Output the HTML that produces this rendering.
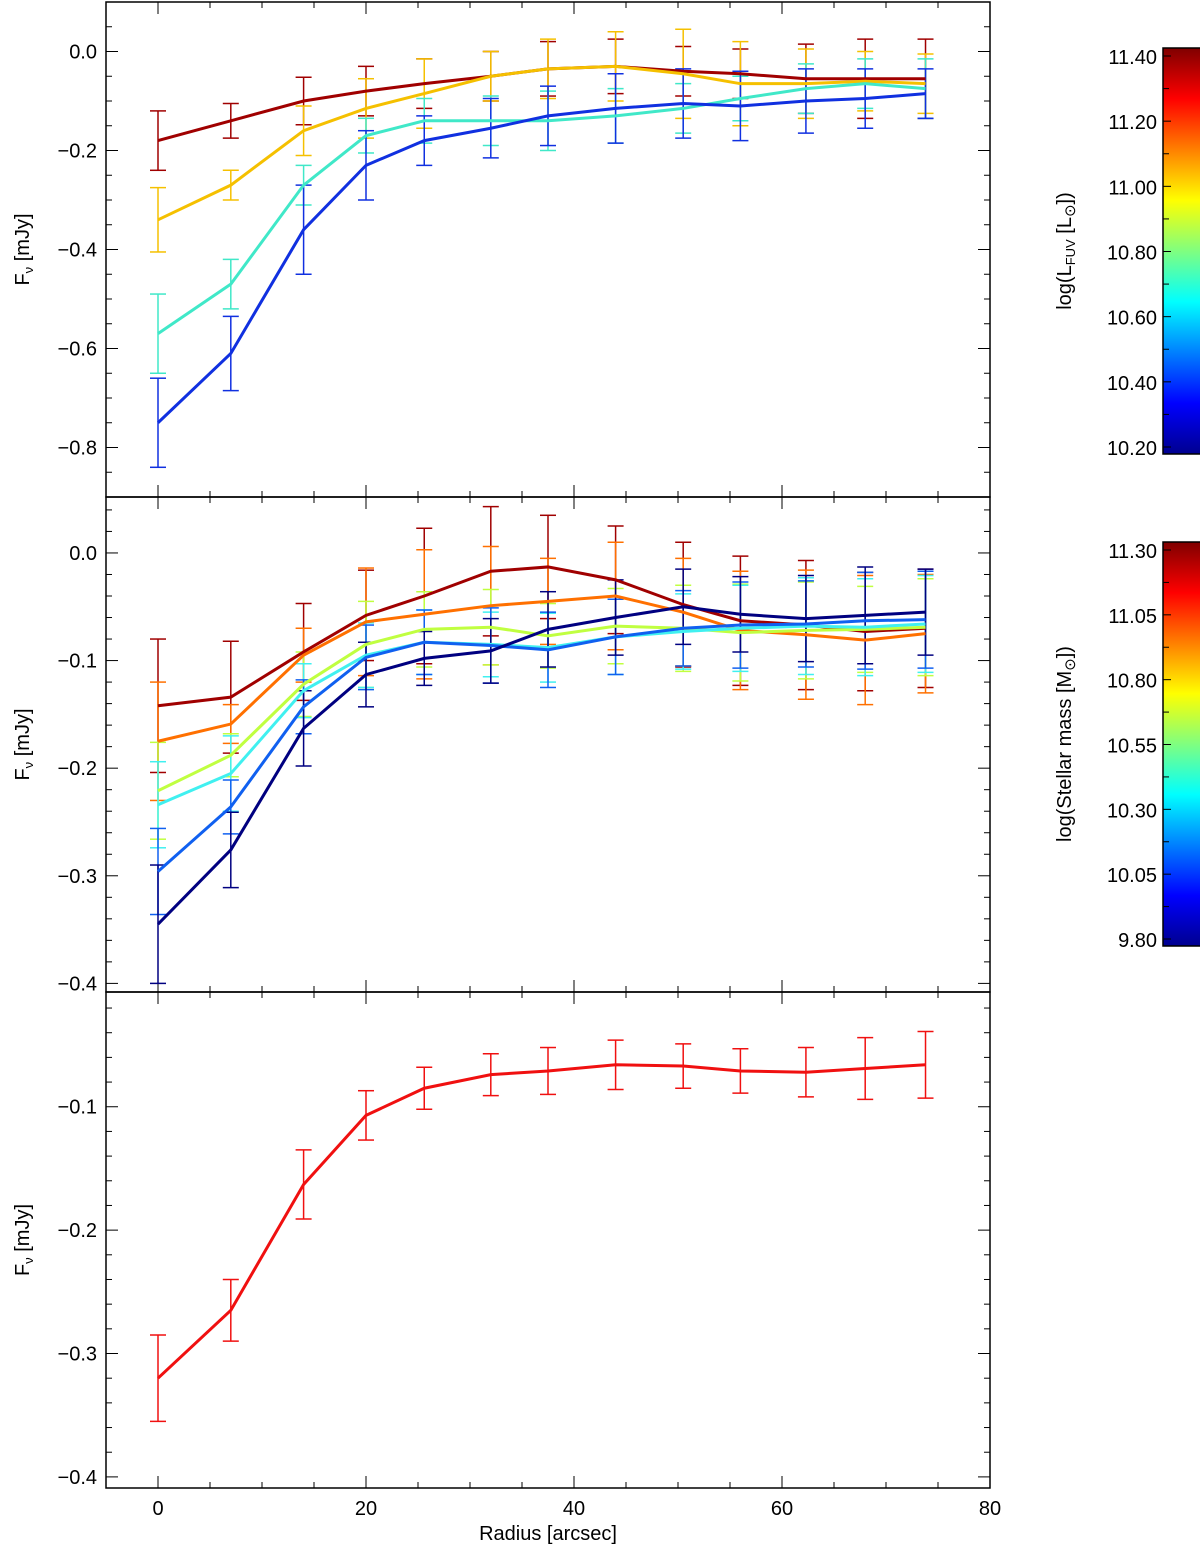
<!DOCTYPE html>
<html><head><meta charset="utf-8"><style>
body{margin:0;background:#fff;overflow:hidden;}
svg text{font-family:"Liberation Sans",sans-serif;font-size:20px;fill:#000;}
</style></head><body>
<svg id="chart" width="1200" height="1560" xmlns="http://www.w3.org/2000/svg">
<defs>
<linearGradient id="jet" x1="0" y1="1" x2="0" y2="0">
<stop offset="0" stop-color="#00008f"/><stop offset="0.125" stop-color="#0000ff"/><stop offset="0.375" stop-color="#00ffff"/><stop offset="0.625" stop-color="#ffff00"/><stop offset="0.875" stop-color="#ff0000"/><stop offset="1" stop-color="#800000"/>
</linearGradient>
</defs>
<g id="g"></g>
</svg>
<script>
const radii=[0,7,14,20,25.6,32,37.5,44,50.5,56,62.3,68,73.8];
const xTicks=[0,20,40,60,80];
// panel 1
const p1Colors=['#a00000','#f5c000','#40e8c8','#1030e0'];
const p1Vals=[
[-0.18,-0.14,-0.10,-0.08,-0.065,-0.05,-0.035,-0.03,-0.04,-0.045,-0.055,-0.055,-0.055],
[-0.34,-0.27,-0.16,-0.115,-0.085,-0.05,-0.035,-0.03,-0.045,-0.065,-0.065,-0.06,-0.065],
[-0.57,-0.47,-0.27,-0.17,-0.14,-0.14,-0.14,-0.13,-0.115,-0.095,-0.075,-0.065,-0.075],
[-0.75,-0.61,-0.36,-0.23,-0.18,-0.155,-0.13,-0.115,-0.105,-0.11,-0.1,-0.095,-0.085]];
const p1Errs=[
[0.06,0.035,0.048,0.05,0.05,0.05,0.055,0.055,0.05,0.05,0.07,0.08,0.08],
[0.065,0.03,0.05,0.06,0.07,0.05,0.06,0.07,0.09,0.085,0.07,0.06,0.06],
[0.08,0.05,0.04,0.035,0.045,0.05,0.06,0.055,0.05,0.045,0.05,0.05,0.06],
[0.09,0.075,0.09,0.07,0.05,0.06,0.06,0.07,0.07,0.07,0.065,0.06,0.05]];
const p1Ticks=[0.0,-0.2,-0.4,-0.6,-0.8];
// panel 2
const p2Colors=['#a00000','#ff7000','#c0ff40','#40f0f0','#1060f0','#000080'];
const p2Vals=[
[-0.142,-0.134,-0.092,-0.058,-0.040,-0.017,-0.013,-0.025,-0.048,-0.063,-0.067,-0.073,-0.070],
[-0.175,-0.159,-0.095,-0.064,-0.057,-0.049,-0.045,-0.040,-0.055,-0.072,-0.076,-0.081,-0.075],
[-0.221,-0.188,-0.122,-0.085,-0.071,-0.069,-0.077,-0.068,-0.070,-0.074,-0.072,-0.071,-0.069],
[-0.234,-0.205,-0.128,-0.095,-0.083,-0.085,-0.088,-0.078,-0.073,-0.070,-0.068,-0.069,-0.066],
[-0.296,-0.236,-0.143,-0.097,-0.083,-0.086,-0.090,-0.078,-0.070,-0.067,-0.066,-0.063,-0.062],
[-0.345,-0.276,-0.163,-0.113,-0.098,-0.091,-0.071,-0.060,-0.050,-0.057,-0.061,-0.058,-0.055]];
const p2Errs=[
[0.062,0.052,0.045,0.042,0.063,0.06,0.048,0.05,0.058,0.06,0.06,0.055,0.055],
[0.055,0.018,0.025,0.05,0.06,0.055,0.04,0.05,0.05,0.055,0.06,0.06,0.055],
[0.045,0.02,0.03,0.04,0.035,0.035,0.03,0.035,0.04,0.045,0.045,0.04,0.045],
[0.04,0.035,0.025,0.03,0.03,0.03,0.032,0.035,0.035,0.04,0.045,0.045,0.045],
[0.04,0.025,0.025,0.03,0.03,0.035,0.035,0.035,0.035,0.04,0.04,0.045,0.045],
[0.055,0.035,0.035,0.03,0.025,0.03,0.035,0.035,0.035,0.035,0.04,0.045,0.04]];
const p2Ticks=[0.0,-0.1,-0.2,-0.3,-0.4];
// panel 3
const p3Colors=['#f01010'];
const p3Vals=[[-0.32,-0.265,-0.163,-0.107,-0.085,-0.074,-0.071,-0.066,-0.067,-0.071,-0.072,-0.069,-0.066]];
const p3Errs=[[0.035,0.025,0.028,0.02,0.017,0.017,0.019,0.02,0.018,0.018,0.02,0.025,0.027]];
const p3Ticks=[-0.1,-0.2,-0.3,-0.4];
const cb1Labels=['11.40','11.20','11.00','10.80','10.60','10.40','10.20'];
const cb2Labels=['11.30','11.05','10.80','10.55','10.30','10.05','9.80'];

const NS='http://www.w3.org/2000/svg';
const root=document.getElementById('g');
function mk(tag,attrs,parent){const e=document.createElementNS(NS,tag);for(const k in attrs)e.setAttribute(k,attrs[k]);(parent||root).appendChild(e);return e;}
const X0=106,X1=990,XMIN=-5,XMAX=80;
const xs=v=>X0+(v-XMIN)/(XMAX-XMIN)*(X1-X0);

function panel(name,top,bot,ymin,ymax,ticks,minor,colors,vals,errs,fmt,showX){
  const g=mk('g',{});
  
  
  const ys=v=>bot-(v-ymin)/(ymax-ymin)*(bot-top);
  mk('rect',{x:X0,y:top,width:X1-X0,height:bot-top,fill:'none',stroke:'#000','stroke-width':1.5},g);
  for(let v=-5;v<=80.01;v+=5){const x=xs(v);const L=(Math.round(v)%20===0)?12:6;
    mk('line',{x1:x,x2:x,y1:bot,y2:bot-L,stroke:'#000'},g);mk('line',{x1:x,x2:x,y1:top,y2:top+L,stroke:'#000'},g);}
  const start=Math.ceil(ymin/minor)*minor;
  for(let v=start;v<=ymax+1e-9;v+=minor){const y=ys(v);const isMaj=ticks.some(t=>Math.abs(t-v)<1e-6);const L=isMaj?12:6;
    mk('line',{x1:X0,x2:X0+L,y1:y,y2:y,stroke:'#000'},g);mk('line',{x1:X1,x2:X1-L,y1:y,y2:y,stroke:'#000'},g);}
  ticks.forEach(t=>{const tx=mk('text',{x:X0-9,y:ys(t)+7,'text-anchor':'end'},g);tx.textContent=(t<0?'\u2212':'')+Math.abs(t).toFixed(fmt);
    
    });
  const yl=mk('text',{transform:`translate(29,${(top+bot)/2}) rotate(-90)`,'text-anchor':'middle'},g);
  yl.innerHTML='F<tspan font-size="13" dy="4">\u03bd</tspan><tspan dy="-4"> [mJy]</tspan>';
  
  
  colors.forEach((c,si)=>{
    const eg=mk('g',{stroke:c,'stroke-width':1.5,fill:'none'},g);
    
    
    radii.forEach((r,i)=>{const x=xs(r),y1=ys(vals[si][i]-errs[si][i]),y2=ys(vals[si][i]+errs[si][i]);
      mk('line',{x1:x,x2:x,y1:y1,y2:y2},eg);mk('line',{x1:x-8,x2:x+8,y1:y1,y2:y1},eg);mk('line',{x1:x-8,x2:x+8,y1:y2,y2:y2},eg);});
  });
  colors.forEach((c,si)=>{
    const p=mk('polyline',{points:radii.map((r,i)=>xs(r)+','+ys(vals[si][i])).join(' '),fill:'none',stroke:c,'stroke-width':3},g);
    
    
  });
  if(showX){xTicks.forEach(t=>{const tx=mk('text',{x:xs(t),y:bot+27,'text-anchor':'middle'},g);tx.textContent=t;
    
    });
    const xl=mk('text',{x:xs(37.5),y:bot+52,'text-anchor':'middle'},g);xl.textContent='Radius [arcsec]';
    
    }
}
panel('panel-fuv',2,497,-0.9,0.1,p1Ticks,0.05,p1Colors,p1Vals,p1Errs,1,false);
panel('panel-mass',497,992,-0.408,0.052,p2Ticks,0.02,p2Colors,p2Vals,p2Errs,1,false);
panel('panel-all',992,1488,-0.409,-0.007,p3Ticks,0.02,p3Colors,p3Vals,p3Errs,1,true);

function colorbar(name,top,bot,labels,title){
  const g=mk('g',{});
  
  
  mk('rect',{x:1163,y:top,width:40,height:bot-top,fill:'url(#jet)',stroke:'#000','stroke-width':1.5},g);
  const y0=top+8,y1=bot-7;
  const step=(y1-y0)/(labels.length-1);
  labels.forEach((l,i)=>{const y=y0+i*step;
    mk('line',{x1:1163,x2:1171,y1:y,y2:y,stroke:'#000'},g);
    if(i<labels.length-1) mk('line',{x1:1163,x2:1169,y1:y+step/2,y2:y+step/2,stroke:'#000'},g);
    const t=mk('text',{x:1157,y:y+8,'text-anchor':'end','font-size':22},g);t.textContent=l;
    
    });
  const tt=mk('text',{transform:`translate(1071,${(top+bot)/2}) rotate(-90)`,'text-anchor':'middle','font-size':22},g);
  tt.innerHTML=title;
  
  
}
colorbar('colorbar-fuv',48,454,cb1Labels,'log(L<tspan font-size="13" dy="4">FUV</tspan><tspan dy="-4"> [L</tspan><tspan font-size="15" dy="4">\u2299</tspan><tspan dy="-4">])</tspan>');
colorbar('colorbar-mass',542,946,cb2Labels,'log(Stellar mass [M<tspan font-size="15" dy="4">\u2299</tspan><tspan dy="-4">])</tspan>');
</script>
</body></html>
